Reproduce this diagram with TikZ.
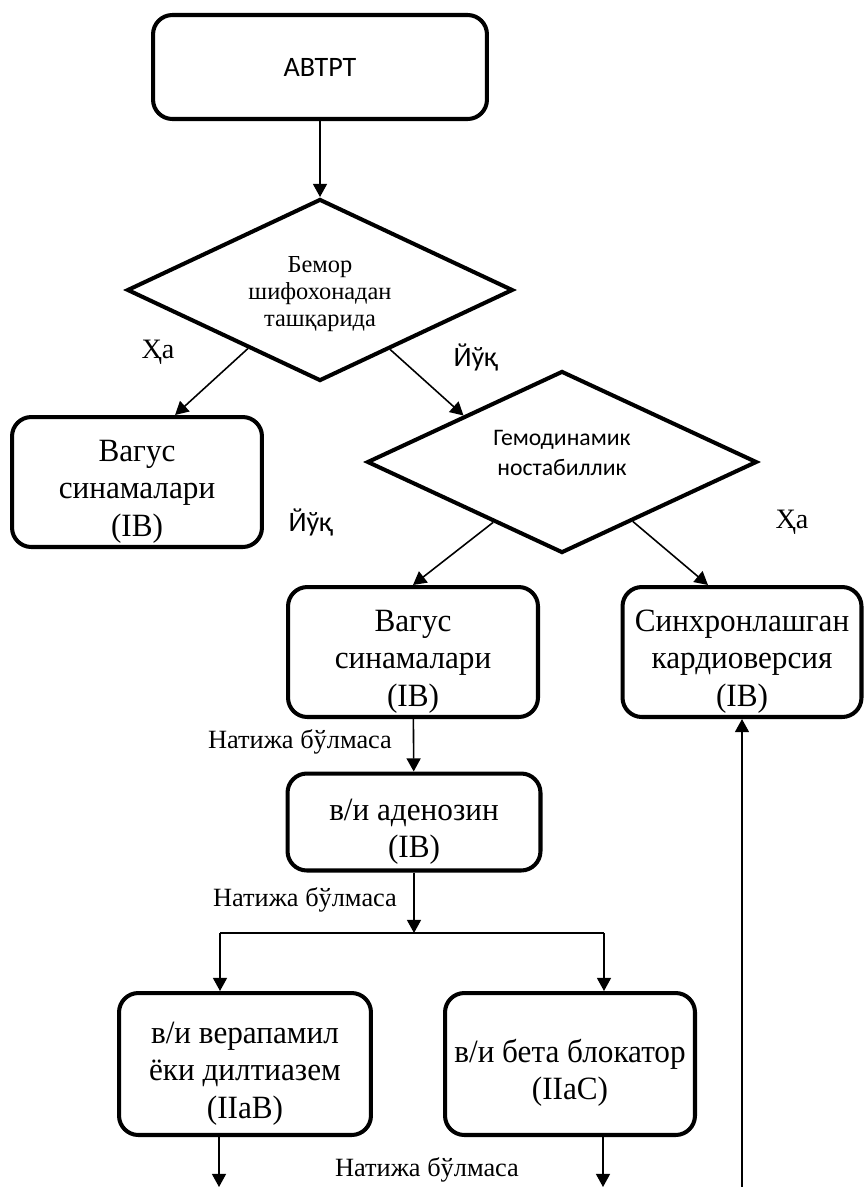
\documentclass[tikz,border=0pt]{standalone}
\usepackage{fontspec}
\setmainfont{Liberation Serif}
\newfontfamily\narrowserif[FakeStretch=0.96]{Liberation Serif}
\newfontfamily\calibri{Carlito}
\usetikzlibrary{shapes.geometric,arrows.meta,calc}

% taller first line, so that the text sits a little low in its box
\newcommand{\lowtext}{\rule{0pt}{23pt}}
\tikzset{
  block/.style={draw, line width=2.3pt, rounded corners=11pt, align=center, inner sep=0pt,
    font=\narrowserif\fontsize{18.5}{21.3}\selectfont},
  decision/.style={draw, diamond, aspect=2, line width=2.3pt, inner sep=0pt},
  link/.style={line width=0.9pt, -{Triangle[length=7.5pt,width=8pt]}},
  note/.style={font=\fontsize{15}{18}\selectfont},
  answer/.style={font=\fontsize{16}{19}\selectfont},
}

\begin{document}
\begin{tikzpicture}[x=0.02cm,y=-0.02cm]
  \useasboundingbox (0,0) rectangle (865,1187);
  % boxes
  \node[draw, line width=2.3pt, rounded corners=11pt, font=\calibri\fontsize{16}{19}\selectfont, minimum width=6.68cm, minimum height=2.08cm] (start) at (320,67) {АВТРТ};
  \node[decision, minimum width=7.72cm, minimum height=3.64cm] (out) at (320,290) {};
  \node[font=\fontsize{13.9}{15.4}\selectfont, align=center] (outtext) at (320,294) {Бемор\\шифохонадан\\ташқарида};
  \node[block, minimum width=5cm, minimum height=2.6cm] (vagus1) at (137,482) {\lowtext Вагус\\синамалари\\(IB)};
  \node[decision, minimum width=7.8cm, minimum height=3.64cm] (hemo) at (562,462) {};
  \node[font=\calibri\fontsize{13.5}{17}\selectfont, align=center] (hemotext) at (562,453) {Гемодинамик\\ностабиллик};
  \node[block, minimum width=5cm, minimum height=2.6cm] (vagus2) at (413,652) {\lowtext Вагус\\синамалари\\(IB)};
  \node[block, minimum width=4.78cm, minimum height=2.6cm] (cardio) at (742,652) {\lowtext Синхронлашган\\кардиоверсия\\(IB)};
  \node[block, minimum width=5.06cm, minimum height=1.94cm] (adeno) at (414,822) {\lowtext в/и аденозин\\(IB)};
  \node[block, minimum width=5.04cm, minimum height=2.84cm] (verap) at (245,1064) {\lowtext в/и верапамил\\ёки дилтиазем\\(IIaB)};
  \node[block, minimum width=5cm, minimum height=2.84cm] (beta) at (570,1064) {\lowtext в/и бета блокатор\\(IIaC)};

  % answers
  \node[answer] (yes1) at (158,352) {Ҳа};
  \node[answer, font=\calibri\fontsize{16}{19}\selectfont] (no1) at (476,357) {Йўқ};
  \node[answer, font=\calibri\fontsize{16}{19}\selectfont] (no2) at (311,522) {Йўқ};
  \node[answer] (yes2) at (792,522) {Ҳа};
  \node[note] (fail1) at (300,742) {Натижа бўлмаса};
  \node[note] (fail2) at (305,900) {Натижа бўлмаса};
  \node[note] (fail3) at (427,1170) {Натижа бўлмаса};

  % connectors
  \coordinate (split) at (414,933);
  \coordinate (splitL) at (220,933);
  \coordinate (splitR) at (604,933);
  \coordinate (endL) at (219,1187);
  \coordinate (endR) at (603,1187);
  \coordinate (backup) at (742,1187);
  \draw[link] (start) -- (out);
  \draw[link] ($(out.west)!0.63!(out.south)$) -- ($(vagus1.north west)!0.65!(vagus1.north east)$);
  \draw[link] ($(out.south)!0.36!(out.east)$) -- (hemo.north west);
  \draw[link] ($(hemo.west)!0.65!(hemo.south)$) -- (vagus2.north);
  \draw[link] ($(hemo.south)!0.36!(hemo.east)$) -- ($(cardio.north west)!0.36!(cardio.north east)$);
  \draw[link] (vagus2) -- (adeno);
  \draw[link] (adeno) -- (split);
  \draw[line width=0.9pt] (splitL) -- (splitR);
  \draw[link] (splitL) -- (splitL |- verap.north);
  \draw[link] (splitR) -- (splitR |- beta.north);
  \draw[link] (endL |- verap.south) -- (endL);
  \draw[link] (endR |- beta.south) -- (endR);
  \draw[link] (backup) -- (cardio.south);
\end{tikzpicture}
\end{document}
